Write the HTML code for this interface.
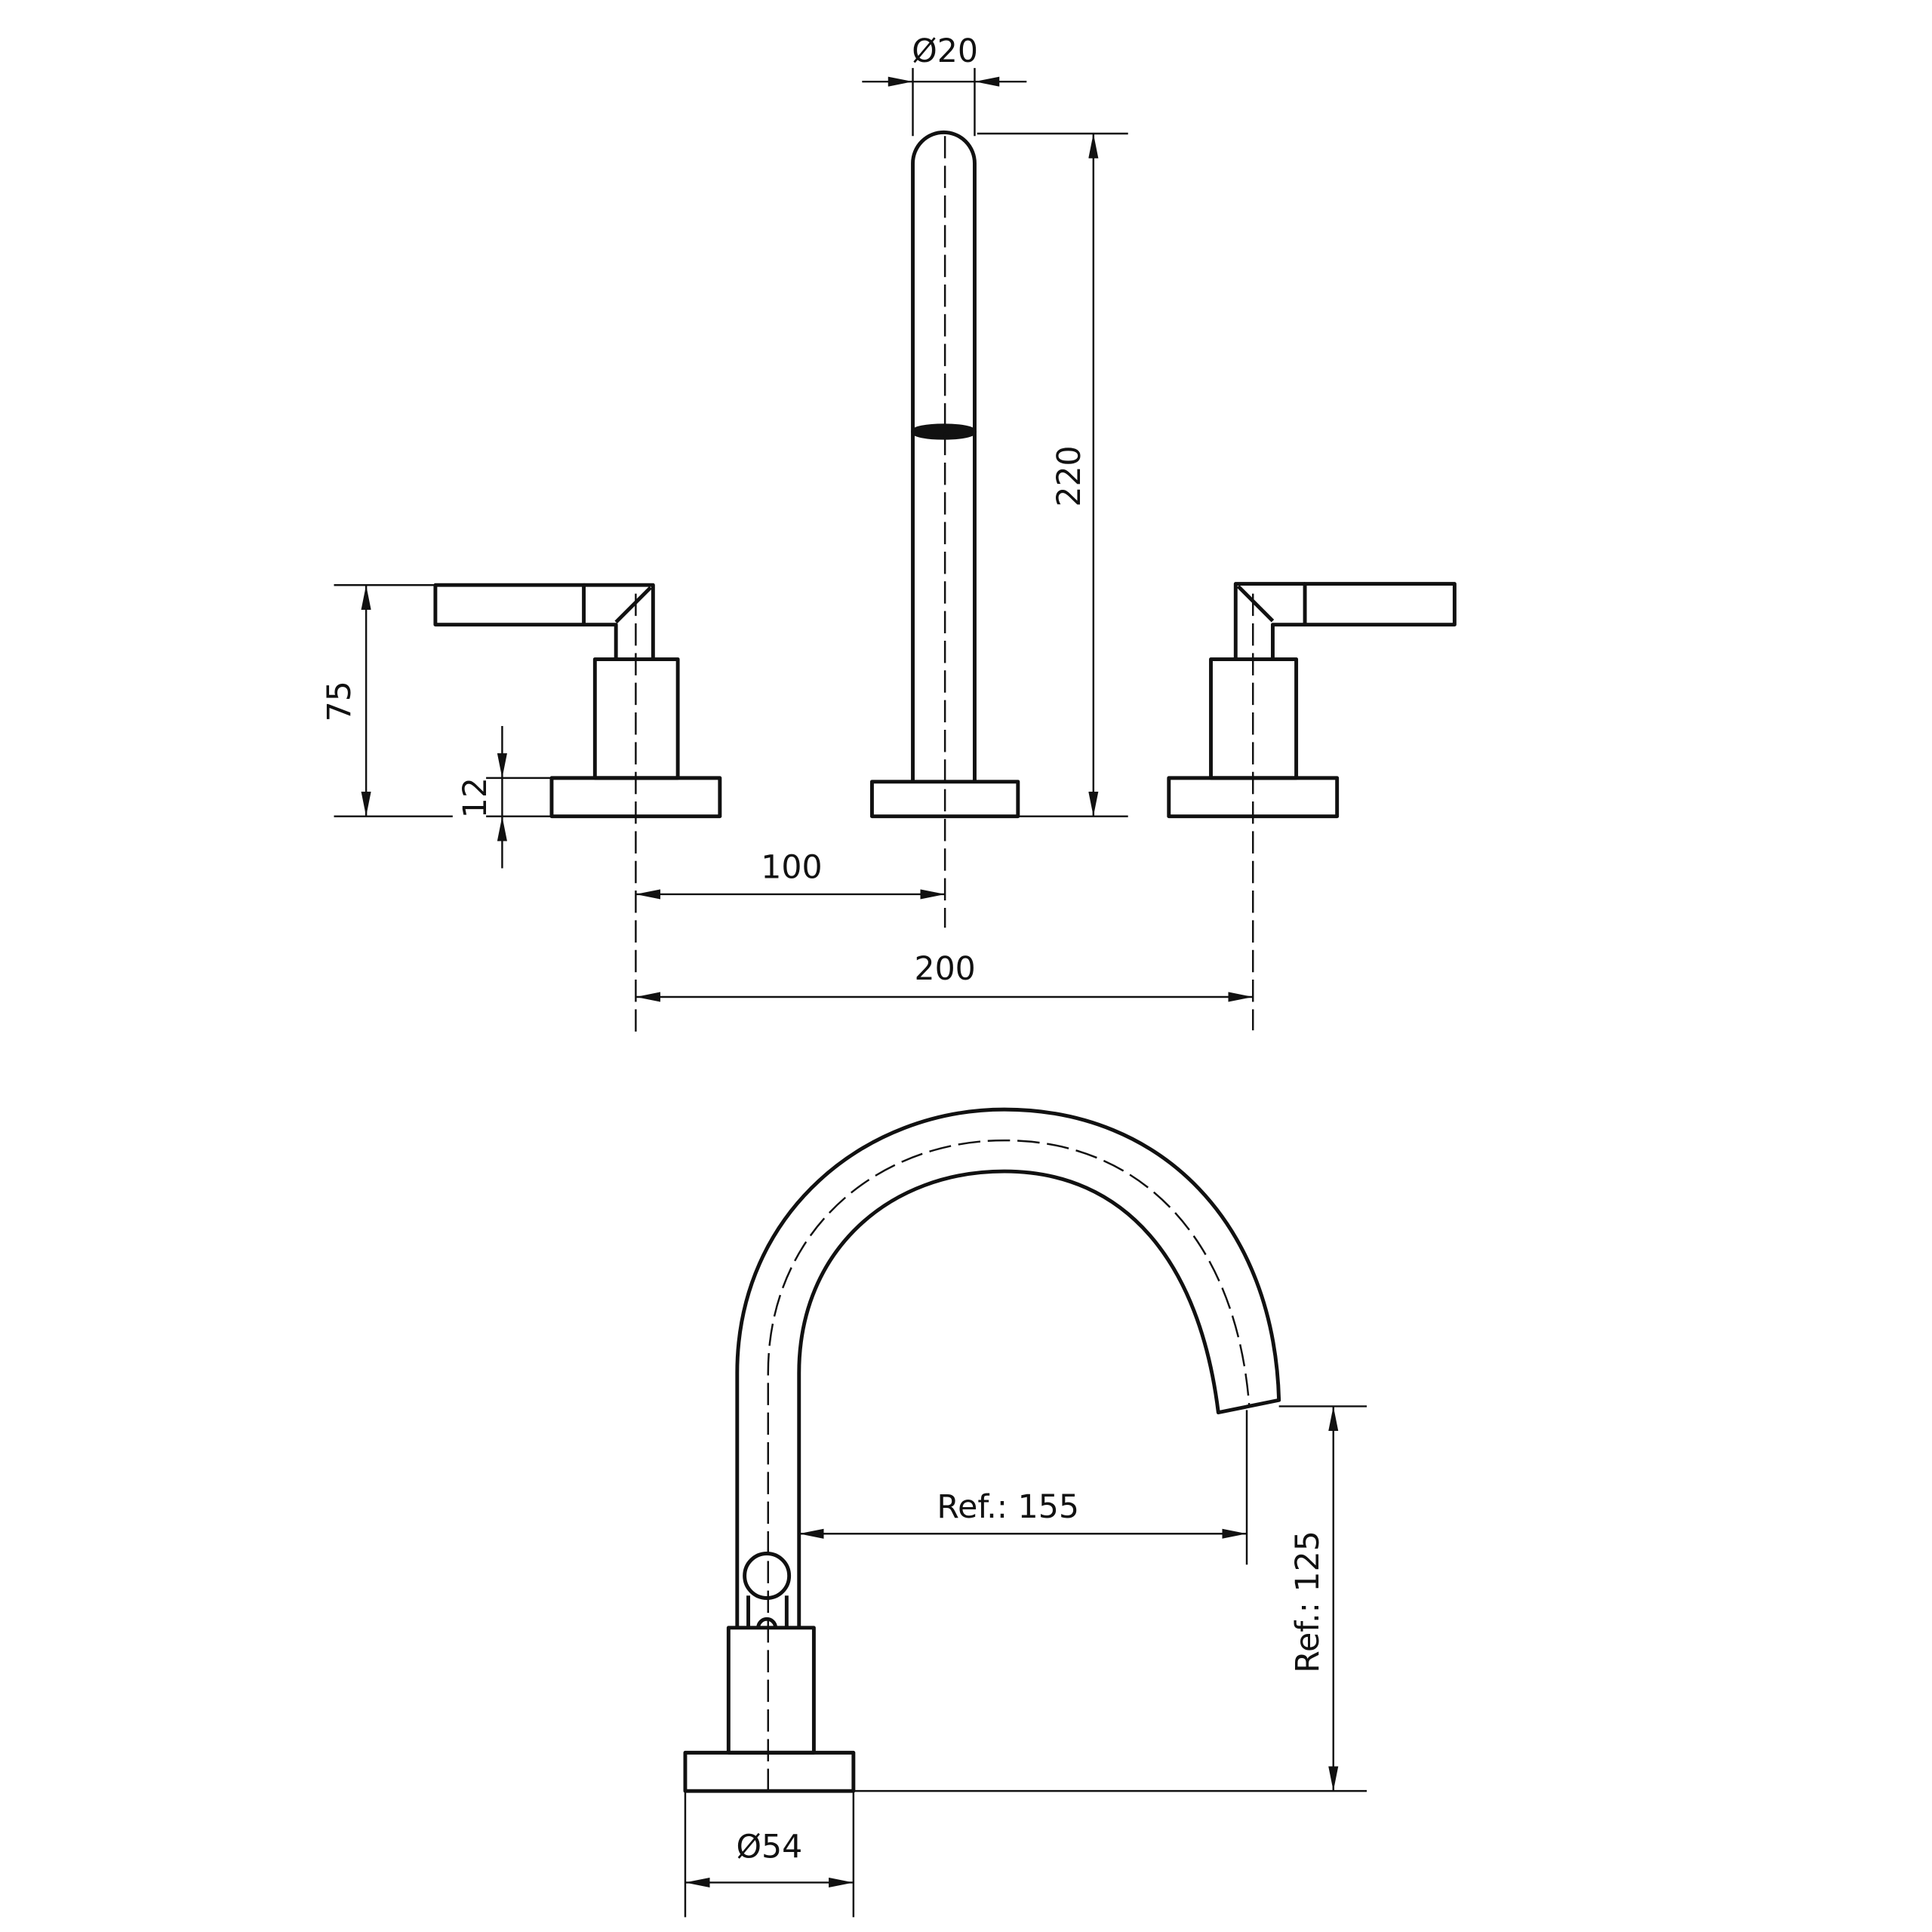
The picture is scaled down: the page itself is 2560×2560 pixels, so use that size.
<!DOCTYPE html>
<html><head><meta charset="utf-8"><style>
html,body{margin:0;padding:0;background:#fff}
svg{display:block}
text{font-family:"DejaVu Sans","Liberation Sans",sans-serif;font-size:26px;fill:#111}
</style></head><body>
<svg width="2560" height="2560" viewBox="0 0 1562 1562" xmlns="http://www.w3.org/2000/svg">
<defs>
<marker id="a" viewBox="0 0 20 8" refX="20" refY="4" markerWidth="20" markerHeight="8" markerUnits="userSpaceOnUse" orient="auto-start-reverse"><path d="M0,0 L20,4 L0,8 z" fill="#111"/></marker>
</defs>
<g fill="none" stroke="#111" stroke-width="3" stroke-linejoin="round">
<path d="M738,632 L738,132 A25,25 0 0 1 788,132 L788,632"/>
<rect x="705" y="632" width="118" height="28"/>
<ellipse cx="763" cy="349" rx="25" ry="5" fill="#111"/>
<!-- left valve -->
<rect x="446" y="629" width="136" height="31"/>
<rect x="481" y="533" width="67" height="96"/>
<rect x="352" y="473" width="120" height="32"/>
<path d="M472,473 L528,473 L528,533 M472,505 L498,505 L498,533 M526,475 L498,503"/>
<!-- right valve -->
<rect x="945" y="629" width="136" height="31"/>
<rect x="979" y="533" width="69" height="96"/>
<rect x="1055" y="472" width="121" height="33"/>
<path d="M1055,472 L999,472 L999,533 M1055,505 L1029,505 L1029,533 M1001,474 L1029,502"/>
<!-- side view -->
<rect x="554" y="1417" width="136" height="31"/>
<rect x="589" y="1316" width="69" height="101"/>
<circle cx="620" cy="1274" r="18"/>
<path d="M613,1316 A7,7 0 0 1 627,1316"/>
<path d="M605,1290 L605,1316 M636,1290 L636,1316"/>
<path d="M596,1316 L596,1110 C596,980 700,897 812,897 C940,897 1030,990 1034,1132 L985,1142 C970,1020 910,947 812,947 C720,947 646,1010 646,1110 L646,1316"/>
</g>
<g fill="none" stroke="#111" stroke-width="1.5" stroke-dasharray="18,6">
<path d="M764,110 L764,750"/>
<path d="M514,480 L514,835"/>
<path d="M1013,480 L1013,833"/>
<path d="M621,1448 L621,1110 C621,995 710,922 812,922 C925,922 1000,1005 1010,1137"/>
</g>
<g fill="none" stroke="#111" stroke-width="1.5">
<path d="M738,55 L738,110 M788,55 L788,110"/>
<path d="M697,66 L738,66" marker-end="url(#a)"/>
<path d="M830,66 L788,66" marker-end="url(#a)"/>
<path d="M738,66 L788,66"/>
<path d="M790,108 L912,108 M823,660 L912,660"/>
<path d="M884,108 L884,660" marker-start="url(#a)" marker-end="url(#a)"/>
<path d="M270,473 L352,473 M270,660 L366,660"/>
<path d="M296,473 L296,660" marker-start="url(#a)" marker-end="url(#a)"/>
<path d="M393,629 L446,629 M393,660 L446,660"/>
<path d="M406,587 L406,629" marker-end="url(#a)"/>
<path d="M406,702 L406,660" marker-end="url(#a)"/>
<path d="M406,629 L406,660"/>
<path d="M514,723 L764,723" marker-start="url(#a)" marker-end="url(#a)"/>
<path d="M514,806 L1013,806" marker-start="url(#a)" marker-end="url(#a)"/>
<path d="M1008,1140 L1008,1265"/>
<path d="M646,1240 L1008,1240" marker-start="url(#a)" marker-end="url(#a)"/>
<path d="M1034,1137 L1105,1137 M690,1448 L1105,1448"/>
<path d="M1078,1137 L1078,1448" marker-start="url(#a)" marker-end="url(#a)"/>
<path d="M554,1448 L554,1550 M690,1448 L690,1550"/>
<path d="M554,1522 L690,1522" marker-start="url(#a)" marker-end="url(#a)"/>
</g>
<text x="764" y="50" text-anchor="middle">Ø20</text>
<text transform="translate(873,385) rotate(-90)" text-anchor="middle">220</text>
<text transform="translate(283,567) rotate(-90)" text-anchor="middle">75</text>
<text transform="translate(393,645) rotate(-90)" text-anchor="middle">12</text>
<text x="640" y="710" text-anchor="middle">100</text>
<text x="764" y="792" text-anchor="middle">200</text>
<text x="815" y="1227" text-anchor="middle">Ref.: 155</text>
<text transform="translate(1066,1295) rotate(-90)" text-anchor="middle">Ref.: 125</text>
<text x="622" y="1502" text-anchor="middle">Ø54</text>
</svg>
</body></html>
